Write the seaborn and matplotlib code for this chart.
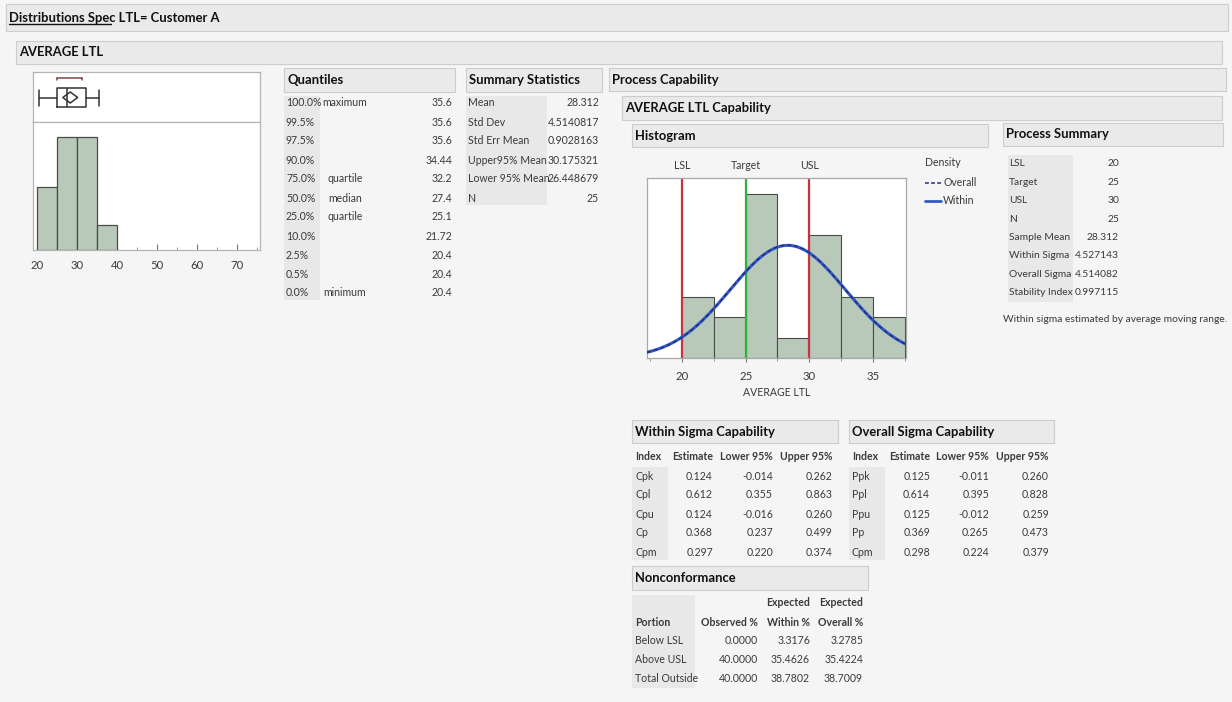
import numpy as np
import matplotlib
matplotlib.use("Agg")
import matplotlib.pyplot as plt
from matplotlib.patches import Rectangle, Polygon
from matplotlib.lines import Line2D
import seaborn as sns

# ---------------- data ----------------
quant_pct = ["100.0%", "99.5%", "97.5%", "90.0%", "75.0%", "50.0%",
             "25.0%", "10.0%", "2.5%", "0.5%", "0.0%"]
quant_name = ["maximum", "", "", "", "quartile", "median", "quartile",
              "", "", "", "minimum"]
quant_val = ["35.6", "35.6", "35.6", "34.44", "32.2", "27.4", "25.1",
             "21.72", "20.4", "20.4", "20.4"]

summ_lab = ["Mean", "Std Dev", "Std Err Mean", "Upper95% Mean",
            "Lower 95% Mean", "N"]
summ_val = ["28.312", "4.5140817", "0.9028163", "30.175321", "26.448679", "25"]

ps_lab = ["LSL", "Target", "USL", "N", "Sample Mean", "Within Sigma",
          "Overall Sigma", "Stability Index"]
ps_val = ["20", "25", "30", "25", "28.312", "4.527143", "4.514082", "0.997115"]

cap_cols = ["Estimate", "Lower 95%", "Upper 95%"]
within_idx = ["Cpk", "Cpl", "Cpu", "Cp", "Cpm"]
within_est = ["0.124", "0.612", "0.124", "0.368", "0.297"]
within_lo = ["-0.014", "0.355", "-0.016", "0.237", "0.220"]
within_hi = ["0.262", "0.863", "0.260", "0.499", "0.374"]
overall_idx = ["Ppk", "Ppl", "Ppu", "Pp", "Cpm"]
overall_est = ["0.125", "0.614", "0.125", "0.369", "0.298"]
overall_lo = ["-0.011", "0.395", "-0.012", "0.265", "0.224"]
overall_hi = ["0.260", "0.828", "0.259", "0.473", "0.379"]

nc_portion = ["Below LSL", "Above USL", "Total Outside"]
nc_obs = ["0.0000", "40.0000", "40.0000"]
nc_within = ["3.3176", "35.4626", "38.7802"]
nc_overall = ["3.2785", "35.4224", "38.7009"]

# distribution histogram (bin width 5)
dist_edges = [20, 25, 30, 35, 40]
dist_counts = [5, 9, 9, 2]
# capability histogram (bin width 2.5)
cap_edges = [20, 22.5, 25, 27.5, 30, 32.5, 35, 37.5]
cap_counts = [3, 2, 8, 1, 6, 3, 2]

# box plot summary
box_min, box_q1, box_med, box_q3, box_max = 20.4, 25.1, 27.4, 32.2, 35.6
mean_val, mean_lo, mean_hi = 28.312, 26.448679, 30.175321
shortest_half = [24.9, 31.3]

# spec limits and normal fits
lsl, target, usl = 20, 25, 30
n_obs = 25
sigma_within = 4.527143
sigma_overall = 4.514082

# ---------------- styling ----------------
sns.set_theme(style="white")
plt.rcParams["font.family"] = ["Lato", "DejaVu Sans"]
HEAD = ["Lato", "DejaVu Sans"]
BODY = ["Lato", "DejaVu Sans"]

W, H = 1232, 702
fig = plt.figure(figsize=(W / 100, H / 100), dpi=100)
fig.patch.set_facecolor("#f5f5f5")

TXT = "#3a3a3a"
SHADE = "#e8e8e8"
BAR_FC = "#eaeaea"
BAR_EC = "#cdcdcd"
HIST_FC = "#b9c9b9"
HIST_EC = "#4a4a4a"


def fx(x):
    return x / W


def fy(y):
    return 1 - y / H


def text(x, y, s, size=7.6, ha="left", weight="normal", family=BODY,
         color=TXT):
    fig.text(fx(x), fy(y), s, ha=ha, va="center", fontsize=size,
             fontweight=weight, family=family, color=color)


def rect(x0, y0, x1, y1, fc, ec="none", lw=0.8, z=0):
    fig.add_artist(Rectangle((fx(x0), fy(y1)), fx(x1) - fx(x0),
                             fy(y0) - fy(y1), transform=fig.transFigure,
                             facecolor=fc, edgecolor=ec, linewidth=lw,
                             zorder=z))


def header(x0, y0, x1, y1, title, size=9.4):
    rect(x0, y0, x1, y1, BAR_FC, BAR_EC)
    text(x0 + 3, (y0 + y1) / 2, title, size=size, weight="bold",
         family=HEAD, color="#111111")


def axes_px(x0, y0, x1, y1):
    return fig.add_axes([fx(x0), fy(y1), fx(x1) - fx(x0), fy(y0) - fy(y1)])


# ---------------- section headers ----------------
header(6, 4, 1228, 31, "Distributions Spec LTL= Customer A", size=9.4)
fig.add_artist(Line2D([fx(9), fx(111)], [fy(24), fy(24)],
                      transform=fig.transFigure, color="#111111", lw=1.0))
header(16, 41, 1222, 64, "AVERAGE LTL")
header(284, 68, 455, 92, "Quantiles")
header(466, 68, 602, 92, "Summary Statistics")
header(609, 68, 1226, 91, "Process Capability")
header(622, 96, 1222, 120, "AVERAGE LTL Capability")
header(632, 124, 988, 147, "Histogram")
header(1003, 123, 1223, 146, "Process Summary")
header(632, 420, 838, 443, "Within Sigma Capability")
header(849, 420, 1054, 443, "Overall Sigma Capability")
header(632, 566, 868, 590, "Nonconformance")

# ---------------- Quantiles ----------------
rect(284, 96, 320, 300, SHADE)
for i, (p, nm, v) in enumerate(zip(quant_pct, quant_name, quant_val)):
    y = 103 + 19 * i
    text(286, y, p)
    if nm:
        text(345, y, nm, ha="center")
    text(452, y, v, ha="right")

# ---------------- Summary Statistics ----------------
rect(466, 96, 547, 205, SHADE)
for i, (lab, v) in enumerate(zip(summ_lab, summ_val)):
    y = 103 + 19 * i
    text(468, y, lab)
    text(599, y, v, ha="right")

# ---------------- Process Summary ----------------
rect(1008, 155, 1073, 302, SHADE)
for i, (lab, v) in enumerate(zip(ps_lab, ps_val)):
    y = 164 + 18.4 * i
    text(1009, y, lab, size=7.4)
    text(1119, y, v, ha="right", size=7.4)
text(1003, 319, "Within sigma estimated by average moving range.", size=7.4)


# ---------------- capability tables ----------------
def cap_table(x0, idx, est, lo, hi, col_right):
    rect(x0, 467, x0 + 36, 560, SHADE)
    text(x0 + 3, 457, "Index", weight="bold")
    for c, xr in zip(cap_cols, col_right):
        text(xr, 457, c, ha="right", weight="bold")
    for i in range(len(idx)):
        y = 476 + 19 * i
        text(x0 + 3, y, idx[i])
        for vals, xr in zip((est, lo, hi), col_right):
            text(xr, y, vals[i], ha="right")


cap_table(632, within_idx, within_est, within_lo, within_hi, [713, 773, 832])
cap_table(849, overall_idx, overall_est, overall_lo, overall_hi,
          [930, 989, 1049])

# ---------------- Nonconformance ----------------
rect(632, 595, 695, 688, SHADE)
text(810, 603, "Expected", ha="right", weight="bold")
text(863, 603, "Expected", ha="right", weight="bold")
text(635, 622, "Portion", weight="bold")
text(758, 622, "Observed %", ha="right", weight="bold")
text(810, 622, "Within %", ha="right", weight="bold")
text(863, 622, "Overall %", ha="right", weight="bold")
for i in range(len(nc_portion)):
    y = 641 + 18.5 * i
    text(635, y, nc_portion[i])
    text(758, y, nc_obs[i], ha="right")
    text(810, y, nc_within[i], ha="right")
    text(863, y, nc_overall[i], ha="right")

# ---------------- distribution: box plot + histogram ----------------
dist_xlim = (19.0, 75.75)
axb = axes_px(33, 72, 260, 122)
axb.set_facecolor("white")
axb.bxp([dict(med=box_med, q1=box_q1, q3=box_q3, whislo=box_min,
              whishi=box_max, fliers=[])],
        positions=[0.49], widths=[0.38], vert=False, showfliers=False,
        boxprops=dict(color="#333333", lw=1.1),
        whiskerprops=dict(color="#333333", lw=1.1),
        capprops=dict(color="#333333", lw=1.1),
        medianprops=dict(color="#333333", lw=1.1), capwidths=[0.32],
        manage_ticks=False)
dh = 0.11
axb.add_patch(Polygon([[mean_lo, 0.49], [mean_val, 0.49 + dh],
                       [mean_hi, 0.49], [mean_val, 0.49 - dh]],
                      closed=True, fill=False, edgecolor="#333333", lw=1.1))
axb.plot(shortest_half, [0.88, 0.88], color="#7a4545", lw=1.1)
for xb in shortest_half:
    axb.plot([xb, xb], [0.88, 0.84], color="#7a4545", lw=1.1)
axb.set_xlim(*dist_xlim)
axb.set_ylim(0, 1)
axb.set_xticks([])
axb.set_yticks([])
for s in axb.spines.values():
    s.set_color("#b5b5b5")
    s.set_linewidth(0.9)

axh = axes_px(33, 122, 260, 250)
axh.set_facecolor("white")
dist_centers = [(a + b) / 2 for a, b in zip(dist_edges[:-1], dist_edges[1:])]
sns.histplot(x=dist_centers, weights=dist_counts, bins=dist_edges,
             color=HIST_FC, edgecolor=HIST_EC, linewidth=0.9, alpha=1,
             ax=axh)
axh.set_xlim(*dist_xlim)
axh.set_ylim(0, 10.2)
axh.set_yticks([])
axh.set_ylabel("")
axh.set_xticks([20, 30, 40, 50, 60, 70])
axh.set_xticks(np.arange(25, 76, 5), minor=True)
axh.tick_params(axis="x", which="major", direction="in", length=4,
                width=0.8, color="#777777", labelsize=8.2, labelcolor=TXT,
                pad=7, bottom=True)
axh.tick_params(axis="x", which="minor", direction="in", length=2,
                width=0.7, color="#999999", bottom=True)
for s in axh.spines.values():
    s.set_color("#b5b5b5")
    s.set_linewidth(0.9)

# ---------------- capability histogram ----------------
cap_xlim = (17.25, 37.6)
axc = axes_px(647, 178, 906, 358)
axc.set_facecolor("white")
cap_centers = [(a + b) / 2 for a, b in zip(cap_edges[:-1], cap_edges[1:])]
sns.histplot(x=cap_centers, weights=cap_counts, bins=cap_edges,
             color=HIST_FC, edgecolor=HIST_EC, linewidth=0.8, alpha=1,
             ax=axc, zorder=1)
binw = cap_edges[1] - cap_edges[0]
xs = np.linspace(cap_xlim[0], cap_xlim[1], 300)
y_within = n_obs * binw * np.exp(-0.5 * ((xs - mean_val) / sigma_within) ** 2) \
    / (sigma_within * np.sqrt(2 * np.pi))
y_overall = n_obs * binw * np.exp(-0.5 * ((xs - mean_val) / sigma_overall) ** 2) \
    / (sigma_overall * np.sqrt(2 * np.pi))
for xv, col in ((lsl, "#c9323f"), (target, "#2fb23a"), (usl, "#c9323f")):
    axc.axvline(xv, color=col, lw=1.6, zorder=2)
sns.lineplot(x=xs, y=y_within, color="#3358c4", lw=2.2, ax=axc, zorder=3)
sns.lineplot(x=xs, y=y_overall, color="#1f2f7a", lw=1.0, ax=axc, zorder=4,
             linestyle=(0, (3, 2)))
axc.set_xlim(*cap_xlim)
axc.set_ylim(0, 8.8)
axc.set_yticks([])
axc.set_ylabel("")
axc.set_xticks([20, 25, 30, 35])
axc.set_xticks([17.5, 22.5, 27.5, 32.5, 37.5], minor=True)
axc.tick_params(axis="x", which="major", direction="out", length=3,
                width=0.8, color="#777777", labelsize=8.2, labelcolor=TXT,
                pad=6, bottom=True)
axc.tick_params(axis="x", which="minor", direction="out", length=2,
                width=0.7, color="#999999", bottom=True)
axc.set_xlabel("AVERAGE LTL", fontsize=7.6, color=TXT, labelpad=4)
for s in axc.spines.values():
    s.set_color("#a8a8a8")
    s.set_linewidth(0.9)
for xv, lab in ((lsl, "LSL"), (target, "Target"), (usl, "USL")):
    axc.text(xv, 1.04, lab, transform=axc.get_xaxis_transform(),
             ha="center", va="bottom", fontsize=7.6, color=TXT)

# legend for the density curves
text(925, 163, "Density")
fig.add_artist(Line2D([fx(925), fx(941)], [fy(183), fy(183)],
                      transform=fig.transFigure, color="#1f2f7a", lw=1.1,
                      linestyle=(0, (2.5, 1.5))))
text(943, 183, "Overall")
fig.add_artist(Line2D([fx(925), fx(941)], [fy(201), fy(201)],
                      transform=fig.transFigure, color="#3358c4", lw=2.0))
text(943, 201, "Within")

fig.savefig("out.png", dpi=100, facecolor=fig.get_facecolor())
